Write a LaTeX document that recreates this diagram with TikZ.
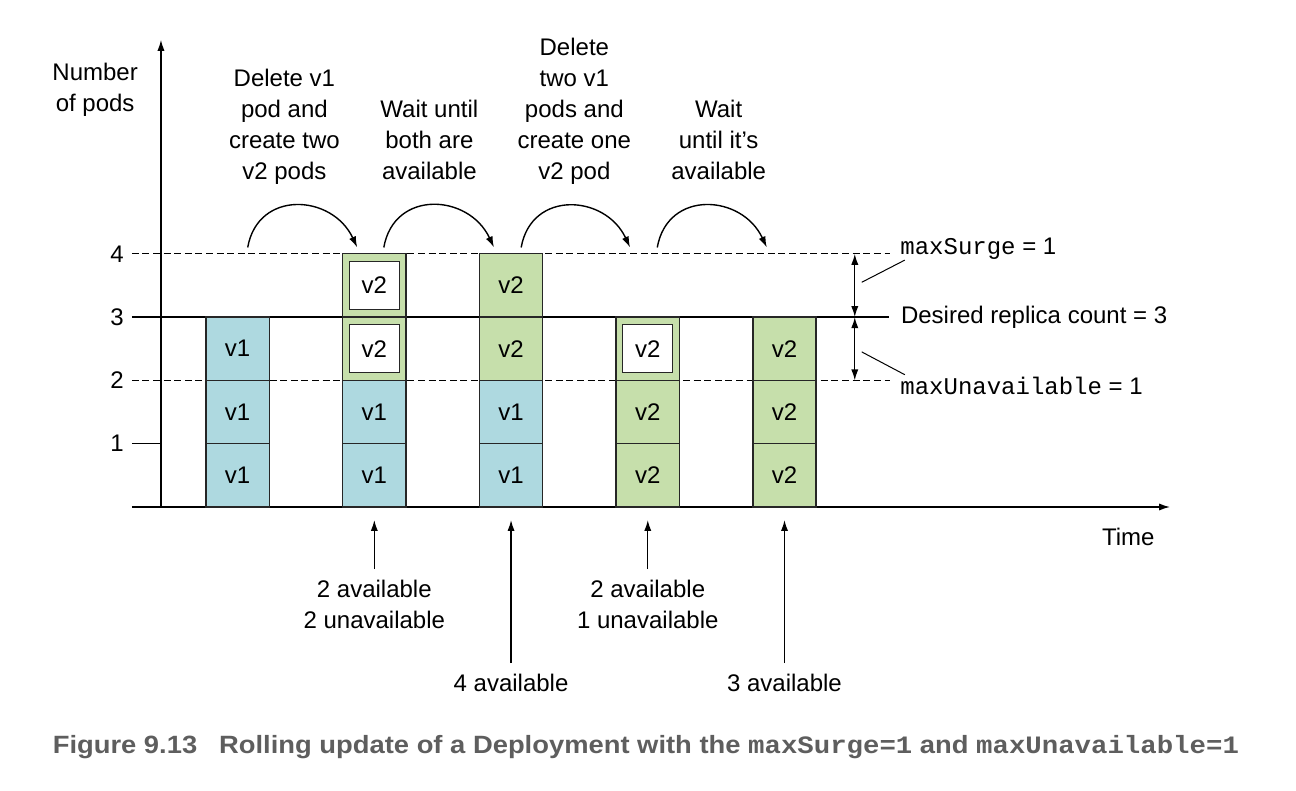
\documentclass[tikz,border=0pt]{standalone}
\usepackage{fontspec}
\setmainfont{Liberation Sans}
\setmonofont{Liberation Mono}
\usepackage{graphicx}
\usetikzlibrary{arrows.meta}

\definecolor{podblue}{HTML}{AED9E0}
\definecolor{podgreen}{HTML}{C6DFAB}
\definecolor{capgray}{HTML}{5E5E5E}

\tikzset{
  pod/.style={draw=black!85, line width=0.7pt, minimum width=31.65pt, minimum height=31.65pt, inner sep=0pt},
  v1pod/.style={pod, fill=podblue},
  v2pod/.style={pod, fill=podgreen},
  newpod/.style={draw=black!85, line width=0.7pt, fill=white, minimum width=25pt, minimum height=24pt, inner sep=0pt},
  arrowline/.style={-{Latex[length=5.5pt,width=3.6pt]}},
  twoway/.style={{Latex[length=5.5pt,width=3.6pt]}-{Latex[length=5.5pt,width=3.6pt]}},
  levelline/.style={dash pattern=on 3.5pt off 1.8pt},
  txt/.style={align=center, inner sep=0pt, anchor=north},
}

\begin{document}
\begin{tikzpicture}[x=31.65pt, y=31.65pt, line width=0.7pt, font=\fontsize{12}{15.5}\selectfont]
\useasboundingbox (-2.543,-4.471) rectangle (17.93,8.009);
%
% axes
\coordinate (o) at (0,0);
\coordinate (ytop) at (0,7.38);
\coordinate (xl) at (-0.46,0);
\coordinate (xr) at (15.94,0);
\draw[arrowline] (o) -- (ytop);
\draw[arrowline] (xl) -- (xr);
\node[txt] (npods) at (-1.04,7.02) {Number\\of pods};
\node[anchor=base, inner sep=0pt] (time) at (15.28,-0.616) {Time};

% levels
\draw[levelline] (-0.46,4) -- (11.52,4);
\draw (-0.46,3) -- (11.5,3);
\draw[levelline] (-0.46,2) -- (11.52,2);
\draw (-0.46,1) -- (0,1);
\foreach \y in {1,...,4} {
\node (t\y) at (-0.695,\y) {\y};
}

% pods
\node[v1pod] (c1a) at (1.21,0.5) {v1};
\node[v1pod] (c1b) at (1.21,1.5) {v1};
\node[v1pod] (c1c) at (1.21,2.5) {v1};

\node[v1pod] (c2a) at (3.37,0.5) {v1};
\node[v1pod] (c2b) at (3.37,1.5) {v1};
\node[v2pod] (c2c) at (3.37,2.5) {};
\node[v2pod] (c2d) at (3.37,3.5) {};
\node[newpod] (n2c) at (c2c) {v2};
\node[newpod] (n2d) at (c2d) {v2};

\node[v1pod] (c3a) at (5.53,0.5) {v1};
\node[v1pod] (c3b) at (5.53,1.5) {v1};
\node[v2pod] (c3c) at (5.53,2.5) {v2};
\node[v2pod] (c3d) at (5.53,3.5) {v2};

\node[v2pod] (c4a) at (7.69,0.5) {v2};
\node[v2pod] (c4b) at (7.69,1.5) {v2};
\node[v2pod] (c4c) at (7.69,2.5) {};
\node[newpod] (n4c) at (c4c) {v2};

\node[v2pod] (c5a) at (9.85,0.5) {v2};
\node[v2pod] (c5b) at (9.85,1.5) {v2};
\node[v2pod] (c5c) at (9.85,2.5) {v2};

% steps
\node[txt] (step1) at (1.95,6.93) {Delete v1\\pod and\\create two\\v2 pods};
\node[txt] (step2) at (4.24,6.44) {Wait until\\both are\\available};
\node[txt] (step3) at (6.53,7.42) {Delete\\two v1\\pods and\\create one\\v2 pod};
\node[txt] (step4) at (8.81,6.44) {Wait\\until it's\\available};
\foreach \i/\a/\b in {1/1.37/3.10, 2/3.52/5.26, 3/5.69/7.41, 4/7.84/9.57} {
\coordinate (s\i) at (\a,4.1);
\coordinate (e\i) at (\b,4.1);
\draw[arrowline] (s\i) to[out=80, in=115, looseness=1.38] (e\i);
}

% maxSurge / maxUnavailable
\coordinate (m4) at (10.96,4);
\coordinate (m3) at (10.96,3);
\coordinate (m2) at (10.96,2);
\draw[twoway] (m4) -- (m3);
\draw[twoway] (m3) -- (m2);
\node[anchor=base west, inner sep=0pt] (surge) at (11.67,3.99) {\texttt{maxSurge} = 1};
\node[anchor=base west, inner sep=0pt] (desired) at (11.68,2.90) {Desired replica count = 3};
\node[anchor=base west, inner sep=0pt] (unavail) at (11.67,1.78) {\texttt{maxUnavailable} = 1};
\coordinate (l1) at (11.07,3.55);
\coordinate (l2) at (11.07,2.45);
\draw[line width=0.5pt] (l1) -- (11.75,3.90);
\draw[line width=0.5pt] (l2) -- (11.75,2.09);

% availability
\node[txt] (av1) at (3.37,-1.14) {2 available\\2 unavailable};
\node[anchor=base, inner sep=0pt] (av2) at (5.53,-2.91) {4 available};
\node[txt] (av3) at (7.69,-1.14) {2 available\\1 unavailable};
\node[anchor=base, inner sep=0pt] (av4) at (9.85,-2.91) {3 available};
\coordinate (a1) at (3.37,-0.205);
\coordinate (a2) at (5.53,-0.205);
\coordinate (a3) at (7.69,-0.205);
\coordinate (a4) at (9.85,-0.205);
\foreach \i in {1,...,4} {
\draw[arrowline] ([yshift=5pt]av\i.north) -- (a\i);
}

% caption
\node[anchor=base west, inner sep=0pt, text=capgray, font=\bfseries\fontsize{12.5}{14}\selectfont] (cap) at (-1.72,-3.89)
{\resizebox{593pt}{\height}{Figure 9.13\hspace{0.8em}Rolling update of a Deployment with the \texttt{maxSurge=1} and \texttt{maxUnavailable=1}}};

\end{tikzpicture}
\end{document}
